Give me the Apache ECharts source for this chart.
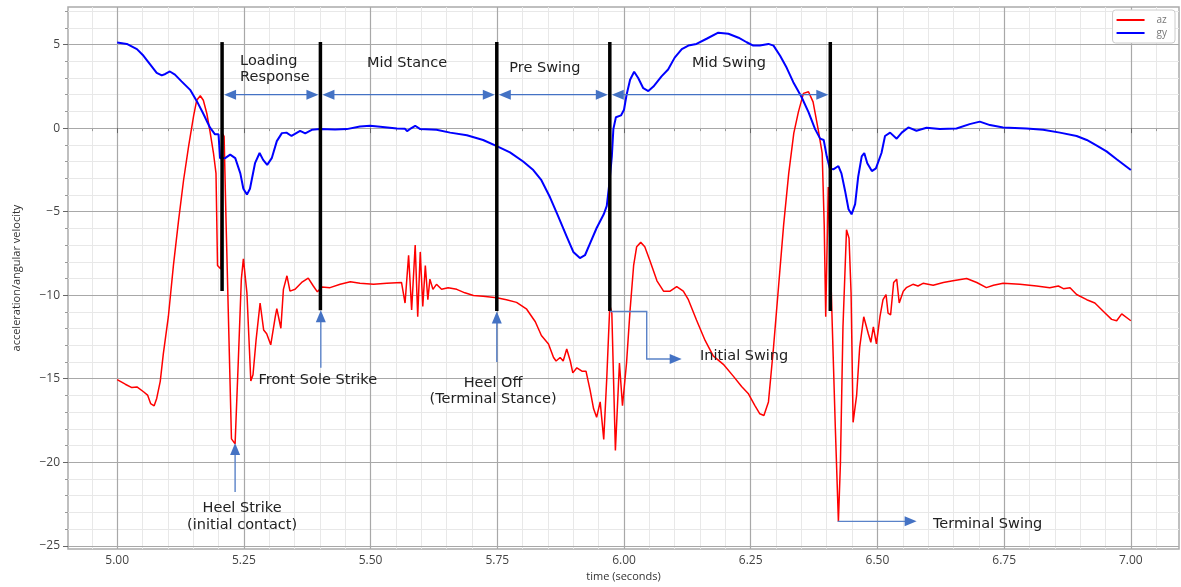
<!DOCTYPE html>
<html lang="en">
<head>
<meta charset="UTF-8">
<title>Gait phases - az / gy</title>
<script src="https://cdn.jsdelivr.net/npm/echarts@6/dist/echarts.min.js"></script>
<style>
  html, body { margin: 0; padding: 0; background: #fff; }
  #main { width: 1181px; height: 587px; }
</style>
</head>
<body>
<div id="main"></div>
<script>
// gy (angular velocity)
var gyT = [5.000, 5.019, 5.039, 5.052, 5.065, 5.078, 5.088, 5.095, 5.104, 5.114, 5.127, 5.144, 5.158, 5.170, 5.183, 5.193, 5.200,
    5.203, 5.213, 5.223, 5.233, 5.243, 5.249, 5.256, 5.262, 5.272, 5.281, 5.288, 5.296, 5.305, 5.315, 5.325, 5.334, 5.344, 5.361,
    5.371, 5.384, 5.400, 5.430, 5.453, 5.479, 5.499, 5.519, 5.552, 5.568, 5.572, 5.578, 5.588, 5.598, 5.630, 5.657, 5.690, 5.722,
    5.749, 5.775, 5.801, 5.821, 5.837, 5.854, 5.870, 5.887, 5.900, 5.913, 5.923, 5.933, 5.946, 5.960, 5.966, 5.971, 5.976, 5.979,
    5.984, 5.994, 6.000, 6.005, 6.012, 6.020, 6.028, 6.038, 6.048, 6.058, 6.074, 6.087, 6.100, 6.114, 6.127, 6.143, 6.163, 6.186,
    6.206, 6.226, 6.242, 6.255, 6.268, 6.285, 6.295, 6.308, 6.321, 6.334, 6.350, 6.364, 6.377, 6.387, 6.394, 6.400, 6.406, 6.413,
    6.423, 6.429, 6.436, 6.443, 6.449, 6.456, 6.462, 6.469, 6.474, 6.480, 6.489, 6.497, 6.508, 6.515, 6.525, 6.538, 6.548, 6.561,
    6.577, 6.597, 6.623, 6.656, 6.682, 6.702, 6.722, 6.748, 6.794, 6.827, 6.860, 6.893, 6.913, 6.932, 6.952, 6.972, 7.000];
var gyV = [5.12, 5.04, 4.73, 4.33, 3.82, 3.31, 3.16, 3.24, 3.39, 3.20, 2.80, 2.29, 1.57, 0.86, 0.04, -0.37, -0.37,
    -1.80, -1.80, -1.59, -1.80, -2.71, -3.63, -3.98, -3.63, -2.10, -1.49, -1.90, -2.20, -1.80, -0.78, -0.30, -0.27, -0.47, -0.16,
    -0.31, -0.10, -0.06, -0.08, -0.06, 0.10, 0.14, 0.08, -0.02, -0.04, -0.18, -0.05, 0.14, -0.06, -0.10, -0.27, -0.43, -0.71,
    -1.08, -1.45, -2.00, -2.51, -3.12, -4.14, -5.27, -6.49, -7.41, -7.78, -7.61, -6.90, -5.98, -5.16, -4.65, -3.33, -1.69, -0.06,
    0.65, 0.76, 1.10, 1.98, 2.90, 3.37, 3.00, 2.39, 2.22, 2.49, 3.10, 3.51, 4.22, 4.73, 4.94, 5.04, 5.35, 5.71,
    5.65, 5.41, 5.14, 4.94, 4.94, 5.04, 4.94, 4.33, 3.61, 2.75, 1.88, 0.96, -0.06, -0.63, -0.71, -1.69, -2.41, -2.47,
    -2.27, -2.71, -3.73, -4.86, -5.16, -4.55, -2.92, -1.69, -1.49, -2.10, -2.57, -2.41, -1.49, -0.47, -0.27, -0.63, -0.27, 0.04,
    -0.16, 0.02, -0.06, -0.02, 0.24, 0.39, 0.18, 0.04, -0.02, -0.10, -0.27, -0.47, -0.71, -1.04, -1.39, -1.86, -2.51];

// az (acceleration)
var azT = [5.000, 5.016, 5.029, 5.039, 5.052, 5.060, 5.066, 5.073, 5.078, 5.085, 5.091, 5.101, 5.111, 5.121, 5.131, 5.141, 5.151,
    5.157, 5.164, 5.170, 5.177, 5.183, 5.190, 5.195, 5.198, 5.2045, 5.207, 5.211, 5.215, 5.220, 5.2255, 5.2327, 5.239, 5.245, 5.249,
    5.256, 5.2637, 5.268, 5.274, 5.282, 5.289, 5.295, 5.303, 5.312, 5.315, 5.318, 5.323, 5.328, 5.335, 5.341, 5.351, 5.364, 5.377,
    5.387, 5.395, 5.404, 5.420, 5.440, 5.460, 5.479, 5.506, 5.532, 5.561, 5.568, 5.575, 5.581, 5.588, 5.593, 5.598, 5.603, 5.608,
    5.613, 5.617, 5.623, 5.630, 5.640, 5.653, 5.670, 5.686, 5.703, 5.722, 5.749, 5.768, 5.788, 5.808, 5.825, 5.837, 5.851, 5.861,
    5.866, 5.874, 5.880, 5.887, 5.894, 5.899, 5.907, 5.917, 5.925, 5.933, 5.940, 5.946, 5.953, 5.960, 5.966, 5.972, 5.976, 5.983,
    5.991, 5.997, 6.005, 6.012, 6.019, 6.025, 6.033, 6.041, 6.051, 6.065, 6.078, 6.091, 6.104, 6.117, 6.127, 6.143, 6.160, 6.176,
    6.196, 6.216, 6.232, 6.245, 6.258, 6.268, 6.276, 6.285, 6.295, 6.305, 6.315, 6.325, 6.335, 6.344, 6.354, 6.364, 6.373, 6.383,
    6.391, 6.395, 6.398, 6.401, 6.403, 6.406, 6.411, 6.417, 6.423, 6.427, 6.432, 6.439, 6.444, 6.448, 6.452, 6.459, 6.465, 6.473,
    6.482, 6.487, 6.492, 6.498, 6.505, 6.511, 6.517, 6.521, 6.526, 6.532, 6.538, 6.543, 6.551, 6.557, 6.570, 6.580, 6.590, 6.610,
    6.630, 6.649, 6.676, 6.696, 6.715, 6.729, 6.748, 6.781, 6.814, 6.840, 6.857, 6.867, 6.880, 6.893, 6.913, 6.929, 6.946, 6.962,
    6.972, 6.982, 7.000];
var azV = [-15.06, -15.33, -15.53, -15.49, -15.78, -15.98, -16.49, -16.62, -16.18, -15.16, -13.53, -11.29, -8.22, -5.57, -3.12, -1.08, 0.76,
    1.67, 1.94, 1.67, 0.86, -0.16, -1.49, -2.71, -8.22, -8.43, -0.30, -0.50, -5.78, -11.90, -18.60, -18.90, -13.94, -9.04, -7.82,
    -9.86, -15.14, -14.76, -12.71, -10.47, -12.08, -12.31, -12.97, -11.29, -10.80, -10.90, -11.98, -9.65, -8.84, -9.76, -9.65, -9.24, -8.98,
    -9.45, -9.80, -9.51, -9.55, -9.35, -9.20, -9.29, -9.35, -9.29, -9.24, -10.47, -7.61, -10.88, -7.00, -11.29, -7.41, -10.67, -8.22,
    -10.27, -9.04, -9.65, -9.35, -9.65, -9.55, -9.65, -9.86, -10.02, -10.06, -10.16, -10.27, -10.43, -10.84, -11.59, -12.41, -12.92, -13.73,
    -13.94, -13.73, -13.94, -13.22, -13.94, -14.65, -14.35, -14.55, -14.55, -15.67, -16.80, -17.31, -16.39, -18.63, -14.96, -10.60, -11.08, -19.30,
    -14.06, -16.62, -14.06, -10.88, -8.22, -7.10, -6.84, -7.10, -7.92, -9.14, -9.76, -9.76, -9.49, -9.76, -10.27, -11.49, -12.71, -13.63,
    -14.14, -14.86, -15.47, -15.88, -16.59, -17.10, -17.20, -16.39, -13.12, -9.45, -5.78, -2.71, -0.30, 0.96, 2.08, 2.18, 1.57, -0.06,
    -1.49, -5.78, -11.29, -11.29, -3.53, -3.53, -11.90, -18.00, -23.54, -20.06, -11.90, -6.08, -6.59, -9.86, -17.61, -15.98, -13.12, -11.29,
    -12.31, -12.82, -11.90, -12.92, -11.29, -10.27, -9.96, -11.08, -11.18, -9.24, -9.04, -10.47, -9.76, -9.55, -9.35, -9.45, -9.29, -9.41,
    -9.24, -9.14, -9.00, -9.24, -9.55, -9.41, -9.29, -9.35, -9.45, -9.55, -9.45, -9.61, -9.55, -9.96, -10.27, -10.47, -10.98, -11.45,
    -11.53, -11.12, -11.53];

// tick labels
var xTicks = [5.00, 5.25, 5.50, 5.75, 6.00, 6.25, 6.50, 6.75, 7.00];
var yTicks = [-25, -20, -15, -10, -5, 0, 5];

// gait phase boundaries (black bars) and the phase names between them
var phaseT = [5.207, 5.401, 5.749, 5.972, 6.407];
var phaseTop = 5.15;
var phaseBottom = [-9.75, -10.9, -10.95, -10.95, -10.95];
var phaseArrowV = 2.0;
var phaseNames = ['Loading\nResponse', 'Mid Stance', 'Pre Swing', 'Mid Swing'];
var phaseNameAt = [[5.2426, 3.52], [5.572, 3.87], [5.844, 3.58], [6.207, 3.87]];

// gait events
var eventNames = ['Heel Strike\n(initial contact)', 'Front Sole Strike', 'Heel Off\n(Terminal Stance)', 'Initial Swing', 'Terminal Swing'];
var eventNameAt = [[5.2465, -23.26], [5.396, -15.08], [5.7416, -15.76], [6.150, -13.64], [6.6095, -23.74]];
var eventAlign = ['center', 'center', 'center', 'left', 'left'];
var eventArrows = [
    [[5.2327, -21.78], [5.2327, -18.85]],
    [[5.4018, -14.35], [5.4018, -10.9]],
    [[5.749, -14.0], [5.749, -10.98]],
    [[5.972, -10.98], [6.0448, -10.98], [6.0448, -13.82], [6.1138, -13.82]],
    [[6.4215, -23.54], [6.5773, -23.54]]
];

var xMin = 4.903, xMax = 7.095;
var yMin = -25.2, yMax = 7.25;

function steps(a, b, s) {
    var out = [];
    for (var v = a; v <= b + 1e-9; v += s) out.push(Math.round(v * 1000) / 1000);
    return out;
}
var xMinor = steps(4.95, 7.05, 0.05);
var yMinor = steps(-25, 7, 1);

function pairs(t, v) {
    return t.map(function (x, i) { return [x, v[i]]; });
}
function minus(s) { return String(s).replace('-', '\u2212'); }

var FONT = '"Open Sans", "Noto Sans", sans-serif';
var NOTE_FONT = '"DejaVu Sans", sans-serif';
var chart = echarts.init(document.getElementById('main'));

var option = {
    animation: false,
    backgroundColor: '#fff',
    grid: {
        left: 68, right: 2, top: 7, bottom: 32,
        show: true, borderColor: '#aaa', borderWidth: 1.5, backgroundColor: 'transparent'
    },
    legend: {
        data: ['az', 'gy'],
        icon: 'rect',
        orient: 'vertical',
        right: 6, top: 10,
        padding: [5, 8, 5, 4],
        itemGap: 3,
        itemWidth: 28, itemHeight: 2,
        borderColor: '#ccc', borderWidth: 1, borderRadius: 3,
        backgroundColor: '#fff',
        textStyle: {fontFamily: FONT, fontSize: 10, color: '#777', padding: [0, 0, 0, 7]}
    },
    xAxis: [{
        type: 'value', min: xMin, max: xMax, z: 2,
        name: 'time (seconds)', nameLocation: 'middle', nameGap: 17,
        nameTextStyle: {fontFamily: FONT, fontSize: 11, color: '#333'},
        axisLine: {show: false},
        axisTick: {show: true, length: 5, customValues: xTicks, lineStyle: {color: '#666'}},
        axisLabel: {customValues: xTicks, margin: 5, fontFamily: FONT, fontSize: 12, color: '#444',
            formatter: function (v) { return v.toFixed(2); }},
        splitLine: {show: true, lineStyle: {color: '#a8a8a8', width: 1.2}}
    }, {
        type: 'value', min: xMin, max: xMax, z: 1, position: 'bottom',
        axisLine: {show: false},
        axisTick: {show: true, length: 3, customValues: xMinor, lineStyle: {color: '#999'}},
        axisLabel: {show: false},
        splitLine: {show: true, lineStyle: {color: '#e8e8e8', width: 1}}
    }],
    yAxis: [{
        type: 'value', min: yMin, max: yMax, z: 2,
        name: 'acceleration/angular velocity', nameLocation: 'middle', nameGap: 46,
        nameTextStyle: {fontFamily: FONT, fontSize: 11, color: '#333'},
        axisLine: {show: false},
        axisTick: {show: true, length: 5, customValues: yTicks, lineStyle: {color: '#666'}},
        axisLabel: {customValues: yTicks, margin: 8, fontFamily: FONT, fontSize: 12, color: '#444',
            formatter: function (v) { return minus(v); }},
        splitLine: {show: true, lineStyle: {color: '#a8a8a8', width: 1.2}}
    }, {
        type: 'value', min: yMin, max: yMax, z: 1, position: 'left',
        axisLine: {show: false},
        axisTick: {show: true, length: 3, customValues: yMinor, lineStyle: {color: '#999'}},
        axisLabel: {show: false},
        splitLine: {show: true, lineStyle: {color: '#e8e8e8', width: 1}}
    }],
    series: [{
        name: 'az', type: 'line', symbol: 'none', z: 3,
        data: pairs(azT, azV),
        lineStyle: {color: '#ff0000', width: 1.5},
        itemStyle: {color: '#ff0000'}
    }, {
        name: 'gy', type: 'line', symbol: 'none', z: 4,
        data: pairs(gyT, gyV),
        lineStyle: {color: '#0000ff', width: 2},
        itemStyle: {color: '#0000ff'}
    }]
};
chart.setOption(option);

// annotations: bars, arrows and texts placed through the axes
function p(t, v) { return chart.convertToPixel({xAxisIndex: 0, yAxisIndex: 0}, [t, v]); }

function arrowHead(tip, from, len, half, color) {
    var dx = tip[0] - from[0], dy = tip[1] - from[1];
    var d = Math.sqrt(dx * dx + dy * dy);
    var ux = dx / d, uy = dy / d;
    var bx = tip[0] - ux * len, by = tip[1] - uy * len;
    return {
        type: 'polygon', z: 20,
        shape: {points: [tip, [bx - uy * half, by + ux * half], [bx + uy * half, by - ux * half]]},
        style: {fill: color}
    };
}

function drawAnnotations() {
    var els = [];
    var blue = '#4472c4';

    // black phase bars
    phaseT.forEach(function (t, i) {
        var a = p(t, phaseTop), b = p(t, phaseBottom[i]);
        els.push({type: 'line', z: 15, shape: {x1: a[0], y1: a[1], x2: b[0], y2: b[1]},
            style: {stroke: '#000', lineWidth: 3.5}});
    });

    // double arrows between the bars
    for (var i = 0; i < phaseT.length - 1; i++) {
        var a = p(phaseT[i], phaseArrowV), b = p(phaseT[i + 1], phaseArrowV);
        a[0] += 2; b[0] -= 2;
        els.push({type: 'line', z: 19, shape: {x1: a[0] + 10, y1: a[1], x2: b[0] - 10, y2: b[1]},
            style: {stroke: blue, lineWidth: 1.3}});
        els.push(arrowHead(a, b, 12, 5, blue));
        els.push(arrowHead(b, a, 12, 5, blue));
    }

    // phase names
    phaseNames.forEach(function (s, i) {
        var q = p(phaseNameAt[i][0], phaseNameAt[i][1]);
        els.push({type: 'text', z: 21, x: q[0], y: q[1],
            style: {text: s, fontFamily: NOTE_FONT, fontSize: 14.5, fill: '#222', lineHeight: 16,
                align: i === 0 ? 'left' : 'center', verticalAlign: 'middle'}});
    });

    // event arrows
    eventArrows.forEach(function (pts) {
        var px = pts.map(function (c) { return p(c[0], c[1]); });
        var n = px.length;
        var tip = px[n - 1], prev = px[n - 2];
        var dx = tip[0] - prev[0], dy = tip[1] - prev[1], d = Math.sqrt(dx * dx + dy * dy);
        var base = [tip[0] - dx / d * 10, tip[1] - dy / d * 10];
        var line = px.slice(0, n - 1).concat([base]);
        els.push({type: 'polyline', z: 19, shape: {points: line},
            style: {stroke: '#5a82c8', lineWidth: 1.4, fill: null}});
        els.push(arrowHead(tip, prev, 12, 5, blue));
    });

    // event names
    eventNames.forEach(function (s, i) {
        var q = p(eventNameAt[i][0], eventNameAt[i][1]);
        els.push({type: 'text', z: 21, x: q[0], y: q[1],
            style: {text: s, fontFamily: NOTE_FONT, fontSize: 14.5, fill: '#222', lineHeight: 16.5,
                align: eventAlign[i], verticalAlign: 'middle'}});
    });

    chart.setOption({graphic: els});
}
drawAnnotations();
</script>
</body>
</html>
